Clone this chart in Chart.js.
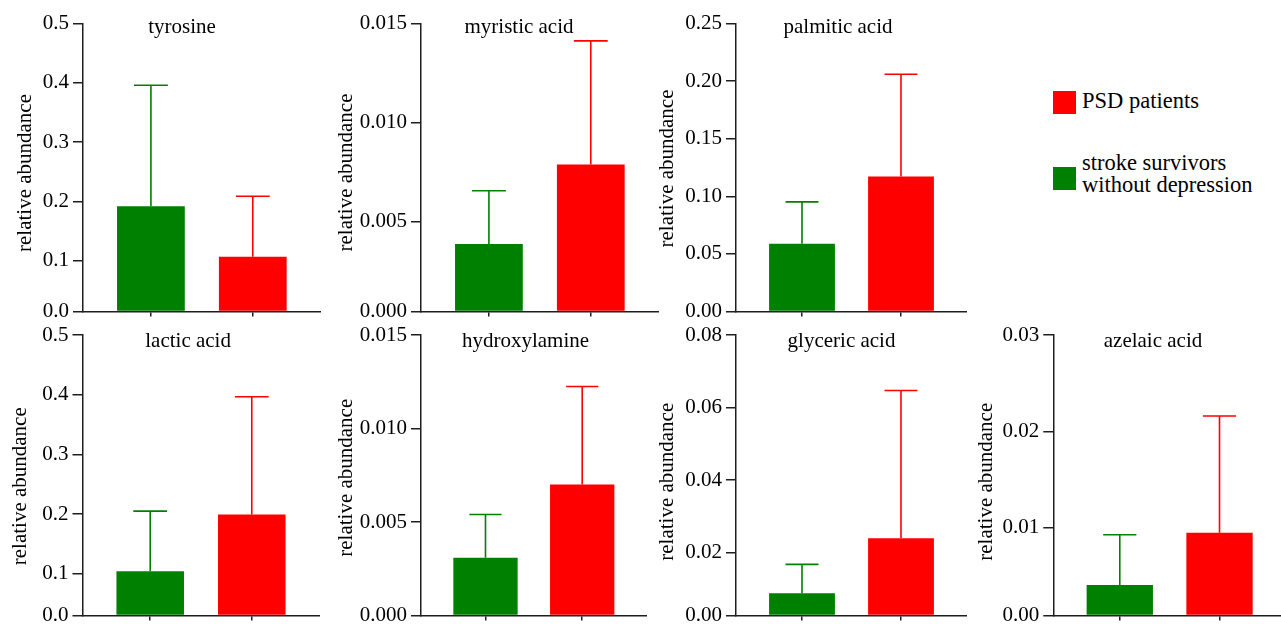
<!DOCTYPE html>
<html><head><meta charset="utf-8">
<script src="https://cdn.jsdelivr.net/npm/chart.js@4.4.1/dist/chart.umd.min.js"></script>
<style>
html,body{margin:0;padding:0;background:#fff;width:1281px;height:624px;overflow:hidden;position:relative;}
canvas{position:absolute;}
.leg{position:absolute;font-family:'Liberation Serif','Times New Roman',serif;font-size:22.5px;color:#000;line-height:21.7px;white-space:nowrap;}
.sw{position:absolute;width:23px;height:23px;}
</style></head><body>
<div class="sw" id="swPsd" style="left:1053px;top:91px;"></div>
<div class="leg" id="lgPsd" style="left:1082px;top:89.7px;"></div>
<div class="sw" id="swStroke" style="left:1053px;top:167px;"></div>
<div class="leg" id="lgStroke" style="left:1082px;top:152.4px;"></div>
<script>
// ---------- data ----------
const groups = ['stroke survivors without depression', 'PSD patients'];
const legendLines = [['stroke survivors', 'without depression'], ['PSD patients']];
const groupColors = ['#008000', '#ff0000'];
const metabolites = ['tyrosine', 'myristic acid', 'palmitic acid', 'lactic acid', 'hydroxylamine', 'glyceric acid', 'azelaic acid'];
const strokeMean = [0.192, 0.00386, 0.0588, 0.1043, 0.00309, 0.00885, 0.0041];
const strokeSD   = [0.204, 0.00269, 0.0364, 0.1007, 0.00231, 0.00792, 0.0052];
const psdMean    = [0.107, 0.00788, 0.1171, 0.1995, 0.0070, 0.02395, 0.0095];
const psdSD      = [0.102, 0.00624, 0.0888, 0.1972, 0.00525, 0.04075, 0.0121];
const axisMax    = [0.5, 0.015, 0.25, 0.5, 0.015, 0.08, 0.03];
const axisFloor  = [0.0147, 0.00045, 0, 0.0303, 0, 0.00269, 0.00093];
const tickValues = [
  [0, 0.1, 0.2, 0.3, 0.4, 0.5],
  [0, 0.005, 0.010, 0.015],
  [0, 0.05, 0.10, 0.15, 0.20, 0.25],
  [0, 0.1, 0.2, 0.3, 0.4, 0.5],
  [0, 0.005, 0.010, 0.015],
  [0, 0.02, 0.04, 0.06, 0.08],
  [0, 0.01, 0.02, 0.03]
];
const tickLabels = [
  ['0.0', '0.1', '0.2', '0.3', '0.4', '0.5'],
  ['0.000', '0.005', '0.010', '0.015'],
  ['0.00', '0.05', '0.10', '0.15', '0.20', '0.25'],
  ['0.0', '0.1', '0.2', '0.3', '0.4', '0.5'],
  ['0.000', '0.005', '0.010', '0.015'],
  ['0.00', '0.02', '0.04', '0.06', '0.08'],
  ['0.00', '0.01', '0.02', '0.03']
];
const yTitle = 'relative abundance';

// ---------- layout (page pixels) ----------
const layout = [
  {titleCX: 25,    axisX: 83,     xEnd: 320.7, top: 23.5, bottom: 311.5, tdx: 99,    tdy: 9.5, ydy: 5.5},
  {titleCX: 346.7, axisX: 421,    xEnd: 658.7, top: 23.5, bottom: 311.5, tdx: 98,    tdy: 9.5, ydy: 5},
  {titleCX: 667.5, axisX: 736,    xEnd: 967,   top: 23.5, bottom: 311.5, tdx: 102,   tdy: 9.5, ydy: 1},
  {titleCX: 20.8,  axisX: 82.5,   xEnd: 319.5, top: 335,  bottom: 615.5, tdx: 105.6, tdy: 12,  ydy: 11},
  {titleCX: 346.7, axisX: 421,    xEnd: 646.7, top: 335,  bottom: 615.5, tdx: 104.5, tdy: 12,  ydy: 2.5},
  {titleCX: 667.5, axisX: 736,    xEnd: 967,   top: 335,  bottom: 615.5, tdx: 105.5, tdy: 12,  ydy: 6.5},
  {titleCX: 986,   axisX: 1053.3, xEnd: 1286,  top: 335,  bottom: 615.5, tdx: 99.7,  tdy: 12,  ydy: 6.5}
];
const FONT = "'Liberation Serif', 'Times New Roman', serif";
const axisColor = '#1e1e1e';

// legend
document.getElementById('swPsd').style.background = groupColors[1];
document.getElementById('swStroke').style.background = groupColors[0];
document.getElementById('lgPsd').innerHTML = legendLines[1].join('<br>');
document.getElementById('lgStroke').innerHTML = legendLines[0].join('<br>');

const titlePlugin = {
  id: 'panelTitle',
  afterDraw(chart, args, opts) {
    const ctx = chart.ctx, a = chart.chartArea;
    ctx.save();
    ctx.font = '21px ' + FONT;
    ctx.fillStyle = '#000';
    ctx.textAlign = 'center';
    ctx.textBaseline = 'alphabetic';
    ctx.fillText(opts.text, a.left + opts.dx, a.top + opts.dy);
    // y-axis title
    ctx.textBaseline = 'middle';
    ctx.translate(opts.yx, (a.top + a.bottom) / 2 + opts.ydy);
    ctx.rotate(-Math.PI / 2);
    ctx.fillText(opts.ytext, 0, 0);
    ctx.restore();
  }
};
const errorPlugin = {
  id: 'errorBars',
  afterDatasetsDraw(chart, args, opts) {
    const ctx = chart.ctx, meta = chart.getDatasetMeta(0), ys = chart.scales.y;
    const ds = chart.data.datasets[0].data;
    ctx.save();
    ctx.lineWidth = 1.6;
    meta.data.forEach((el, k) => {
      const top = ys.getPixelForValue(ds[k].y + opts.sd[k]);
      const half = el.width / 4;
      ctx.strokeStyle = opts.colors[k];
      ctx.beginPath();
      ctx.moveTo(el.x, el.y);
      ctx.lineTo(el.x, top);
      ctx.moveTo(el.x - half, top);
      ctx.lineTo(el.x + half, top);
      ctx.stroke();
    });
    ctx.restore();
  }
};

layout.forEach((p, i) => {
  const L = Math.round(p.titleCX - 12.6);
  const T = Math.round(p.top) - 20;
  const W = Math.ceil(p.xEnd - L);
  const H = Math.ceil(p.bottom - T) + 24;
  const padTop = p.top - T;
  const padRight = W - (p.xEnd - L);
  const yW = p.axisX - L;
  const xH = H - (p.bottom - T);
  const cv = document.createElement('canvas');
  cv.width = W; cv.height = H;
  cv.style.left = L + 'px'; cv.style.top = T + 'px';
  cv.style.width = W + 'px'; cv.style.height = H + 'px';
  document.body.appendChild(cv);
  new Chart(cv, {
    type: 'bar',
    data: {
      datasets: [{
        label: metabolites[i],
        data: [{x: 0, y: strokeMean[i]}, {x: 1, y: psdMean[i]}],
        backgroundColor: groupColors,
        borderWidth: 0,
        base: axisFloor[i],
        barPercentage: 0.665,
        categoryPercentage: 1
      }]
    },
    options: {
      responsive: false, animation: false, events: [],
      layout: {padding: {top: padTop, right: padRight, left: 0, bottom: 0}},
      plugins: {
        legend: {display: false}, tooltip: {enabled: false},
        panelTitle: {text: metabolites[i], dx: p.tdx, dy: p.tdy, ytext: yTitle, yx: p.titleCX - L, ydy: p.ydy},
        errorBars: {sd: [strokeSD[i], psdSD[i]], colors: groupColors}
      },
      scales: {
        x: {
          type: 'linear', min: -2/3, max: 5/3, offset: false,
          afterBuildTicks: s => { s.ticks = [{value: 0}, {value: 1}]; },
          afterFit: s => { s.height = xH; },
          ticks: {display: false},
          grid: {display: true, drawOnChartArea: false, drawTicks: true, tickLength: 5, color: axisColor, lineWidth: 1.5, offset: false},
          border: {display: true, color: axisColor, width: 1.5}
        },
        y: {
          type: 'linear', min: axisFloor[i], max: axisMax[i],
          afterBuildTicks: s => { s.ticks = tickValues[i].map(v => ({value: Math.max(v, axisFloor[i])})); },
          afterFit: s => { s.width = yW; },
          ticks: {callback: (v, idx) => tickLabels[i][idx], color: '#000', font: {family: FONT, size: 21}, padding: 4, autoSkip: false},
          grid: {display: true, drawOnChartArea: false, drawTicks: true, tickLength: 10, color: axisColor, lineWidth: 1.5},
          border: {display: true, color: axisColor, width: 1.5},
          title: {display: false}
        }
      }
    },
    plugins: [titlePlugin, errorPlugin]
  });
});
</script>
</body></html>
